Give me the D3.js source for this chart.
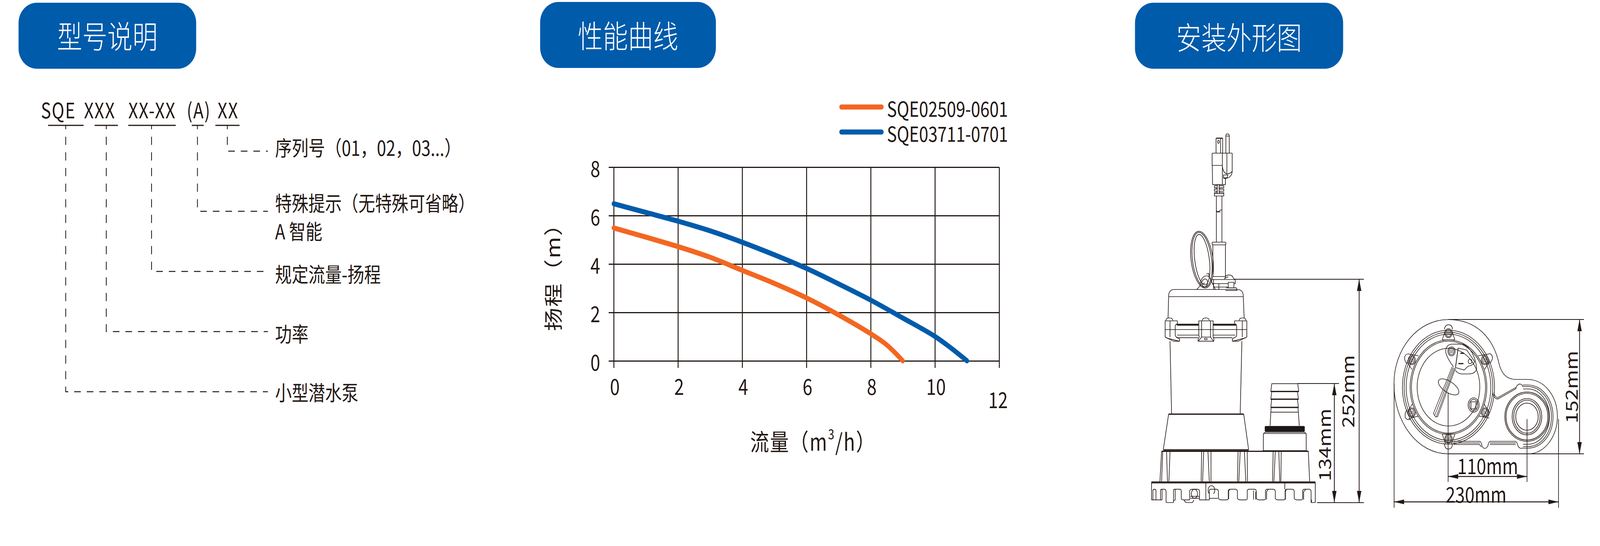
<!DOCTYPE html>
<html>
<head>
<meta charset="utf-8">
<script src="https://cdn.jsdelivr.net/npm/d3@7"></script>
<style>
  html, body { margin: 0; padding: 0; background: #fff; overflow: hidden; }
  svg { display: block; width: 100vw; height: 100vh; }
  text { font-family: "Noto Sans CJK SC", "Noto Sans", sans-serif; fill: #231815; }
  .thin { vector-effect: non-scaling-stroke; }
</style>
</head>
<body>
<div id="chart"></div>
<script>
// chart values
const flowTicks = [0, 2, 4, 6, 8, 10, 12];
const headTicks = [0, 2, 4, 6, 8];
const orangeName = 'SQE02509-0601';
const orangeFlow = [0, 1, 2, 3, 4, 5, 6, 7, 8, 8.5, 9];
const orangeHead = [5.49, 5.11, 4.72, 4.28, 3.74, 3.2, 2.6, 1.9, 1.12, 0.66, 0];
const blueName = 'SQE03711-0701';
const blueFlow = [0, 1, 2, 3, 4, 5, 6, 7, 8, 9, 10, 10.5, 11];
const blueHead = [6.49, 6.13, 5.77, 5.37, 4.9, 4.38, 3.82, 3.18, 2.51, 1.77, 1.01, 0.53, 0];

// texts
const titles = ['型号说明', '性能曲线', '安装外形图'];
const codeParts = ['SQE', 'XXX', 'XX-XX', '(A)', 'XX'];
const codeNotes = [['序列号（01，02，03...）'], ['特殊提示（无特殊可省略）', 'A 智能'], ['规定流量-扬程'], ['功率'], ['小型潜水泵']];
const dimLabels = ['252mm', '134mm', '152mm', '110mm', '230mm'];

const INK = '#231815';
const BLUE = '#005bab';
const ORANGE = '#f36621';

// the window can come up narrower than the drawing, so stretch to fit it
const svg = d3.select('#chart').append('svg')
  .attr('viewBox', '0 0 5089 1398')
  .attr('preserveAspectRatio', 'none');

// header buttons
const buttons = [
  { x: 59, w: 565, y: 7, h: 169, cy: 88 },
  { x: 1718, w: 559, y: 5, h: 169, cy: 87 },
  { x: 3610, w: 662, y: 7, h: 169, cy: 91 }
];
buttons.forEach((b, i) => {
  svg.append('rect')
    .attr('x', b.x).attr('y', b.y)
    .attr('width', b.w).attr('height', b.h)
    .attr('rx', 58).attr('ry', 52)
    .attr('fill', BLUE);
  svg.append('text')
    .attr('x', b.x + b.w / 2)
    .attr('y', b.cy)
    .attr('text-anchor', 'middle')
    .attr('dominant-baseline', 'central')
    .attr('font-size', 80)
    .attr('font-weight', 300)
    .style('fill', '#fff')
    .text(titles[i]);
});

// ---- model code legend ----
const codeX = [130, 267, 408, 594, 692];
const underlines = [[153, 266], [301, 375], [408, 559], [610, 648], [685, 762]];
const drops = [723, 628, 482, 338, 209];
const levels = [387, 541, 695, 849, 1003];
const notePos = [[376], [518, 590], [700], [853], [1003]];
const code = svg.append('g');

codeParts.forEach((p, i) => {
  code.append('text')
    .attr('x', codeX[i]).attr('y', 303)
    .attr('font-size', 54)
    .attr('letter-spacing', 2.5)
    .text(p);
  code.append('line')
    .attr('x1', underlines[i][0]).attr('x2', underlines[i][1])
    .attr('y1', 321).attr('y2', 321)
    .attr('stroke', INK).attr('stroke-width', 3);
});

drops.forEach((x, i) => {
  code.append('path')
    .attr('d', `M${x},321 V${levels[i]} H852`)
    .attr('fill', 'none')
    .attr('stroke', INK)
    .attr('stroke-width', 2.5)
    .attr('stroke-dasharray', '21 19')
    .attr('stroke-dashoffset', 11);
  codeNotes[i].forEach((t, j) => {
    code.append('text')
      .attr('x', 875).attr('y', notePos[i][j])
      .attr('dominant-baseline', 'central')
      .attr('font-size', 53)
      .text(t);
  });
});

// ---- performance curves ----
const x = d3.scaleLinear().domain([0, 12]).range([1952, 3178]);
const y = d3.scaleLinear().domain([0, 8]).range([924, 428]);

const xAxis = svg.append('g')
  .attr('transform', `translate(0,${y(0)})`)
  .call(d3.axisBottom(x).tickValues(flowTicks).tickFormat(d3.format('d')).tickSizeOuter(0));
xAxis.select('.domain').remove();
xAxis.selectAll('.tick line')
  .attr('y1', y(8) - y(0))
  .attr('y2', 18)
  .attr('stroke', INK)
  .attr('stroke-width', 3);
xAxis.selectAll('.tick text')
  .attr('y', d => d === 12 ? 97 : 63)
  .attr('dy', 0)
  .attr('dominant-baseline', 'central')
  .attr('dx', d => d === 12 ? -4 : 3)
  .attr('font-family', null)
  .attr('font-size', 56)
  .style('fill', INK);

const yAxis = svg.append('g')
  .attr('transform', `translate(${x(0)},0)`)
  .call(d3.axisLeft(y).tickValues(headTicks).tickFormat(d3.format('d')).tickSizeOuter(0));
yAxis.select('.domain').remove();
yAxis.selectAll('.tick line')
  .attr('x1', -16)
  .attr('x2', x(12) - x(0))
  .attr('stroke', INK)
  .attr('stroke-width', 3);
yAxis.selectAll('.tick text')
  .attr('x', -43)
  .attr('dy', 0)
  .attr('dominant-baseline', 'central')
  .attr('font-family', null)
  .attr('font-size', 56)
  .style('fill', INK);

const line = d3.line()
  .x(d => x(d[0]))
  .y(d => y(d[1]))
  .curve(d3.curveCatmullRom);

[[orangeFlow, orangeHead, ORANGE], [blueFlow, blueHead, BLUE]].forEach(s => {
  svg.append('path')
    .datum(s[0].map((f, i) => [f, s[1][i]]))
    .attr('d', line)
    .attr('fill', 'none')
    .attr('stroke', s[2])
    .attr('stroke-width', 13)
    .attr('stroke-linecap', 'round');
});

// legend
[[orangeName, ORANGE, 274], [blueName, BLUE, 338]].forEach(l => {
  svg.append('line')
    .attr('x1', 2676).attr('x2', 2804)
    .attr('y1', l[2]).attr('y2', l[2])
    .attr('stroke', l[1])
    .attr('stroke-width', 13)
    .attr('stroke-linecap', 'round');
  svg.append('text')
    .attr('x', 2821).attr('y', l[2] + 2)
    .attr('dominant-baseline', 'central')
    .attr('font-size', 53)
    .text(l[0]);
});

// axis titles
svg.append('text')
  .attr('transform', 'translate(1756,695) rotate(-90)')
  .attr('text-anchor', 'middle')
  .attr('dominant-baseline', 'central')
  .attr('font-size', 60)
  .attr('letter-spacing', 2)
  .text('扬程（m）');

const xTitle = svg.append('text')
  .attr('x', 2386).attr('y', 1128)
  .attr('dominant-baseline', 'central')
  .attr('font-size', 60)
  .attr('letter-spacing', 3);
xTitle.append('tspan').text('流量（m');
xTitle.append('tspan').attr('dy', -20).attr('font-size', 36).text('3');
xTitle.append('tspan').attr('dy', 20).text('/h）');

// ---- pump drawings, traced in zoom coordinates ----
const sideTop = [
  // plug
  'M488,263 V155 H535 V263', 'M520,152 V263', 'M490,152 H535',
  'M499,180 a6,11 0 1,0 12,0 a6,11 0 1,0 -12,0',
  'M558,263 V135 Q558,122 570,122 Q582,122 582,135 V263', 'M558,138 H582',
  'M460,263 H603 V395 Q600,440 560,447 H541', 'M460,263 V352 H533', 'M461,352 L463,492 H555 V447',
  'M533,263 V490', 'M565,263 V412', 'M533,360 Q538,405 565,415 Q592,412 603,395', 'M541,422 H572 L566,443 H541 Z',
  // strain relief and cable
  'M476,500 H497 V492', 'M476,500 V515 H492 V525 H476 V540 H492 V550 H476 V575 H543 V550 H512 V540 H543 V525 H512 V515 H543 V500 H510 V492',
  'M497,500 V558', 'M510,500 V558', 'M476,558 H543',
  'M490,575 V912', 'M530,575 V912', 'M490,682 Q500,695 512,685 Q522,672 530,680', 'M490,690 Q505,695 520,690',
  'M466,912 H552 Q558,912 558,922 Q558,932 552,932 H466 Q460,932 460,922 Q460,912 466,912 Z',
  'M465,932 V1165', 'M555,932 V1165', 'M465,1163 H555',
  // cable gland on the cap
  'M455,1185 H622', 'M460,1215 H575', 'M470,1240 H575', 'M470,1185 V1258', 'M508,1215 V1258',
  'M545,1180 L575,1165', 'M552,1175 Q555,1152 580,1152 Q605,1152 608,1170 L625,1190 V1215 H615',
  'M575,1205 H615 V1245 H575 Z', 'M560,1245 H632 L638,1265 H555',
  // float ring and clip
  'M350,1258 L375,1230 Q375,1180 405,1162 Q430,1150 445,1175 L483,1258', 'M420,1145 L435,1140 L440,1165',
  'M385,1220 Q385,1185 410,1180 Q432,1185 428,1215 Q420,1240 400,1240 Q385,1235 392,1220 Q400,1205 410,1215',
  // cap
  'M150,1310 Q150,1258 190,1258 H640 Q682,1258 682,1310', 'M150,1310 H682', 'M150,1310 L146,1465', 'M682,1310 L688,1465'
];
const ringEllipses = [[78, 208], [68, 200], [52, 185]];

const sideBottom = [
  'M130,62 Q132,42 155,42 Q178,42 180,62', 'M390,62 Q392,42 415,42 Q438,42 440,62', 'M652,62 Q654,42 677,42 Q700,42 702,62',
  'M125,65 H212 V92 H205 Q197,95 197,110 V172 Q197,190 215,195 L228,205 V222 H185 L125,190 Z',
  'M707,65 H620 V92 H627 Q635,95 635,110 V172 Q635,190 617,195 L604,205 V222 H647 L707,190 Z',
  'M365,65 H467 V175 Q465,190 472,200 V222 H360 V205 Q372,195 365,175 Z', 'M385,65 V190', 'M448,65 V190', 'M362,222 L385,190 H448 L470,222',
  'M405,205 a10,6 0 1,0 20,0 a10,6 0 1,0 -20,0',
  'M210,100 H365', 'M468,100 H630', 'M125,132 H707', 'M210,175 H365', 'M468,175 H625', 'M205,195 H360', 'M470,195 H605',
  'M160,65 V190', 'M675,65 V190', 'M130,195 L225,222', 'M700,195 L607,222',
  // motor housing and cone
  'M160,222 L171,782', 'M672,222 L660,782',
  'M150,785 L112,1060', 'M685,785 L720,1060', 'M112,1058 H720', 'M112,1065 H720',
  // base with ribs
  'M100,1072 L88,1305', 'M1145,1072 L1155,1305',
  'M108,1072 L100,1305', 'M135,1072 L142,1305', 'M160,1072 L152,1305',
  'M385,1072 L382,1305', 'M400,1072 L392,1305', 'M430,1072 L440,1305', 'M452,1072 L452,1305',
  'M645,1072 L640,1305', 'M660,1072 L650,1305', 'M690,1072 L700,1305', 'M710,1072 L712,1305',
  'M895,1072 L890,1305', 'M910,1072 L900,1305', 'M935,1072 L942,1305', 'M952,1072 L950,1305',
  // flange
  'M28,1310 V1447', 'M1195,1310 V1468 H1165', 'M415,1310 V1447', 'M978,1310 V1365', 'M28,1318 H1195',
  'M28,1447 H92 V1375 Q92,1365 102,1365 H120 Q130,1365 132,1385 V1465 Q135,1468 140,1468 H180 Q185,1468 185,1460 V1375 Q185,1365 195,1365 H230 Q240,1365 240,1380 V1435 Q240,1447 255,1447 H300 V1375 Q305,1365 320,1365 H355 Q370,1365 370,1385 V1447 H440 V1375 Q440,1365 455,1365 H490 Q505,1365 505,1385 V1435 Q510,1447 525,1447 H565 Q575,1447 575,1435 V1380 Q575,1365 590,1365 H625 Q640,1365 640,1385 V1435 Q645,1447 660,1447 H700 Q710,1447 710,1435 V1380 Q710,1365 725,1365 H760 Q775,1365 775,1385 V1435 Q780,1447 795,1447 H830 Q840,1447 840,1435 V1380 Q840,1365 855,1365 H895 Q910,1365 910,1385 V1435 Q915,1447 930,1447 H970 Q980,1447 980,1435 V1380 Q980,1365 995,1365 H1030 Q1045,1365 1045,1385 V1435 Q1050,1447 1065,1447 H1095 Q1105,1447 1105,1435 V1380 Q1105,1365 1120,1365 H1150 Q1165,1365 1165,1385 V1468',
  'M38,1447 V1375 Q38,1365 48,1365 Q60,1365 60,1375 V1447', 'M103,1365 V1447 H92', 'M197,1365 V1447 L185,1455',
  'M312,1400 a22,35 0 1,0 44,0 a22,35 0 1,0 -44,0', 'M305,1420 H370', 'M305,1435 H370',
  'M440,1400 a24,35 0 1,1 30,0', 'M585,1365 L578,1380 V1440', 'M755,1375 V1445', 'M770,1385 V1445', 'M860,1365 L848,1385 V1445',
  'M990,1365 L982,1385 V1445', 'M1128,1365 L1112,1385 V1445', 'M262,1447 Q262,1468 285,1468 H320 L330,1447', 'M440,1435 H500', 'M1168,1445 V1468',
  // hose barb
  'M885,550 H1070 L1077,610 H878 Z', 'M885,612 L878,670 H1075 L1068,612', 'M884,672 L878,733 H1075 L1068,672',
  'M880,735 L873,875', 'M1072,735 L1081,875', 'M878,770 H1075',
  // socket under the nut
  'M835,925 H1120 L1130,938 V1065', 'M835,925 L825,938 V1065', 'M825,935 H1130', 'M820,1067 H1135'
];
const sideHeavy = [
  'M205,92 H365', 'M468,92 H632', 'M150,785 H685', 'M100,1072 H1147', 'M28,1310 H1195',
  'M878,610 H1077', 'M878,670 H1075', 'M878,733 H1075'
];

const lugs = [[492, 160], [767, 368], [768, 772], [492, 975], [215, 772], [215, 368], [515, 300]];
const topView = [
  'M80,550 C80,280 260,55 490,55 C700,55 830,190 875,400 C895,480 940,517 1000,517 H1090 C1220,517 1315,650 1315,800 C1315,960 1220,1092 1090,1092 H490 C260,1092 80,850 80,550 Z',
  // lug triangles and lobes
  'M445,210 L470,135', 'M540,210 L515,135', 'M445,212 H540', 'M445,940 L470,1015', 'M540,940 L515,1015', 'M445,938 H540',
  'M715,335 L800,320', 'M765,440 L800,380', 'M760,705 L800,770', 'M720,800 L800,815',
  'M265,335 L185,320', 'M215,440 L180,385', 'M220,705 L180,770', 'M265,800 L190,820',
  'M462,130 Q465,95 492,95 Q520,95 522,130', 'M462,1015 Q465,1055 492,1055 Q520,1055 522,1015',
  'M185,320 Q160,325 160,355 Q165,390 180,395', 'M800,315 Q825,325 825,355 Q815,385 800,395', 'M180,750 Q160,770 165,810 Q180,835 205,825',
  // socket and lug around it
  'M470,300 Q475,245 520,245 H600 Q640,260 670,310 Q700,370 705,430 Q700,475 640,475 H590 Q555,470 545,445',
  'M470,300 Q478,350 530,420',
  'M565,275 L630,290 L690,380 Q680,410 640,415 L610,445 L545,425 Z', 'M565,275 L545,425',
  // connecting walls
  'M825,620 Q830,650 850,665 Q865,672 880,660 L1000,590 Q1005,560 1030,552 Q1050,555 1055,575',
  'M835,620 Q840,645 855,655 Q865,660 875,652 L1000,580',
  'M530,995 H730 Q740,1000 745,1030 Q765,1070 790,1030 Q795,1000 805,995 H1000 Q1015,1010 1015,1025 Q1030,1060 1055,1045',
  'M530,1020 H725 Q735,1025 740,1040', 'M530,1008 H730', 'M805,1020 H1000', 'M805,1008 H1000',
  'M1055,560 H1090 C1200,560 1282,670 1282,805 C1282,940 1200,1048 1090,1048 H1055',
  'M1055,572 H1090 C1195,572 1270,680 1270,805 C1270,930 1195,1036 1090,1036 H1055',
  'M1055,590 H1090 C1185,590 1255,690 1255,805 C1255,920 1185,1018 1090,1018 H1055',
  'M662,690 H700 V745 H662 Z'
];
const cordLines = ['M520,420 L378,780 L395,808', 'M545,430 L410,805 L395,808', 'M528,425 L388,795', 'M537,428 L400,805'];
const ringA = [[348, 440], [335, 425], [320, 410], [290, 365], [280, 355], [237, 300]];
const ringB = [[167, 190], [158, 180], [112, 140], [100, 128], [85, 105]];

function strokes(g, list, width) {
  list.forEach(d => {
    g.append('path')
      .attr('class', 'thin')
      .attr('d', d)
      .attr('fill', 'none')
      .attr('stroke', INK)
      .attr('stroke-width', width)
      .attr('stroke-linejoin', 'round');
  });
}

function ovals(g, cx, cy, list, width) {
  list.forEach(r => {
    g.append('ellipse')
      .attr('class', 'thin')
      .attr('cx', cx).attr('cy', cy)
      .attr('rx', r[0]).attr('ry', r[1])
      .attr('fill', 'none')
      .attr('stroke', INK)
      .attr('stroke-width', width);
  });
}

const upper = svg.append('g').attr('transform', 'translate(3650,300) scale(0.4464,0.3508)');
strokes(upper, sideTop, 1.6);
const ring = upper.append('g').attr('transform', 'rotate(-7 388 1040)');
ovals(ring, 388, 1040, ringEllipses, 1.6);

const lower = svg.append('g').attr('transform', 'translate(3650,800) scale(0.4464,0.3316)');
strokes(lower, sideBottom, 1.6);
strokes(lower, sideHeavy, 3.2);
lower.append('rect')
  .attr('x', 835).attr('y', 877)
  .attr('width', 285).attr('height', 44)
  .attr('rx', 8)
  .attr('fill', '#1b1716');

const plan = svg.append('g').attr('transform', 'translate(4400,800) scale(0.4209,0.3316)');
strokes(plan, topView, 1.5);
ovals(plan, 492, 577, ringA, 1.5);
ovals(plan, 1085, 805, ringB, 1.7);
ovals(plan, 682, 715, [[42, 55], [32, 44]], 1.5);
ovals(plan, 655, 378, [[14, 18]], 1.5);
lugs.forEach(p => {
  ovals(plan, p[0], p[1], [[28, 35], [20, 27]], 1.4);
  [-9, 0, 9].forEach(o => {
    strokes(plan, [`M${p[0] + o},${p[1] - 18} V${p[1] + 18}`, `M${p[0] - 14},${p[1] + o} H${p[0] + 14}`], 0.6);
  });
});
strokes(plan, ['M582,315 H610', 'M567,395 H605'], 3);
const handle = plan.append('g').attr('transform', 'rotate(35 493 575)');
ovals(handle, 493, 575, [[90, 42]], 1.5);
strokes(plan, cordLines, 1.3);

// ---- dimension lines ----
function vArrow(ax, y1, y2) {
  svg.append('line').attr('x1', ax).attr('x2', ax).attr('y1', y1).attr('y2', y2)
    .attr('stroke', INK).attr('stroke-width', 2.5);
  [[y1, 1], [y2, -1]].forEach(e => {
    svg.append('path')
      .attr('d', `M${ax},${e[0]} L${ax - 7},${e[0] + e[1] * 30} H${ax + 7} Z`)
      .attr('fill', INK);
  });
}
function hArrow(ay, x1, x2) {
  svg.append('line').attr('y1', ay).attr('y2', ay).attr('x1', x1).attr('x2', x2)
    .attr('stroke', INK).attr('stroke-width', 2.5);
  [[x1, 1], [x2, -1]].forEach(e => {
    svg.append('path')
      .attr('d', `M${e[0]},${ay} L${e[0] + e[1] * 32},${ay - 6} V${ay + 6} Z`)
      .attr('fill', INK);
  });
}
function ext(x1, y1, x2, y2) {
  svg.append('line').attr('x1', x1).attr('y1', y1).attr('x2', x2).attr('y2', y2)
    .attr('stroke', INK).attr('stroke-width', 2);
}
function dimText(t, tx, ty, rotated) {
  svg.append('text')
    .attr('transform', `translate(${tx},${ty})` + (rotated ? ' rotate(-90)' : ''))
    .attr('text-anchor', 'middle')
    .attr('dominant-baseline', 'central')
    .attr('font-size', rotated ? 53 : 55)
    .text(t);
}

vArrow(4323, 715, 1287);
ext(3927, 715, 4338, 715);
ext(4189, 1287, 4338, 1287);
dimText(dimLabels[0], 4284, 1002, true);

vArrow(4244, 982, 1287);
ext(4127, 982, 4259, 982);
dimText(dimLabels[1], 4210, 1139, true);

vArrow(5024, 818, 1162);
ext(4606, 818, 5038, 818);
ext(4606, 1162, 5038, 1162);
dimText(dimLabels[2], 4995, 991, true);

hArrow(1220, 4606, 4857);
ext(4606, 1005, 4606, 1234);
ext(4857, 1073, 4857, 1234);
dimText(dimLabels[3], 4732, 1190, false);

hArrow(1285, 4434, 4957);
ext(4434, 982, 4434, 1300);
ext(4957, 1073, 4957, 1300);
dimText(dimLabels[4], 4695, 1263, false);
</script>
</body>
</html>
